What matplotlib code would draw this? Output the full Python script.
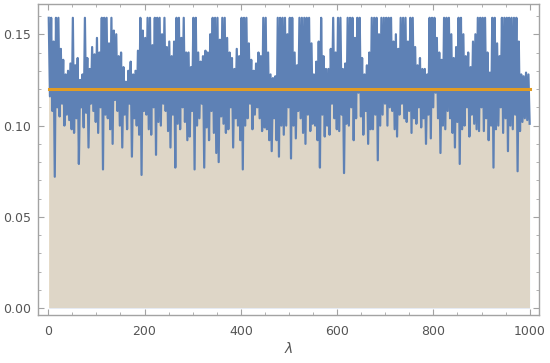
import numpy as np
import matplotlib.pyplot as plt
from matplotlib.ticker import MultipleLocator, FormatStrFormatter

# Peak / trough pairs, one pair per ~5 steps of lambda
# (each row covers ~50 lambda). 0.159 is where the curve hits the plot range.
peaks = [
    0.159, 0.159, 0.146, 0.159, 0.159, 0.142, 0.136, 0.128, 0.130, 0.134,
    0.159, 0.133, 0.137, 0.125, 0.128, 0.159, 0.137, 0.131, 0.143, 0.139,
    0.148, 0.140, 0.159, 0.159, 0.159, 0.145, 0.159, 0.152, 0.150, 0.138,
    0.140, 0.132, 0.124, 0.130, 0.135, 0.128, 0.130, 0.141, 0.159, 0.152,
    0.148, 0.159, 0.159, 0.144, 0.159, 0.159, 0.159, 0.150, 0.159, 0.143,
    0.146, 0.138, 0.146, 0.159, 0.159, 0.148, 0.159, 0.140, 0.140, 0.132,
    0.159, 0.159, 0.140, 0.135, 0.138, 0.141, 0.140, 0.150, 0.159, 0.159,
    0.159, 0.147, 0.159, 0.159, 0.148, 0.140, 0.137, 0.131, 0.142, 0.138,
    0.159, 0.159, 0.159, 0.145, 0.136, 0.130, 0.134, 0.140, 0.138, 0.159,
    0.159, 0.140, 0.128, 0.126, 0.127, 0.159, 0.159, 0.159, 0.159, 0.150,
    0.159, 0.159, 0.140, 0.133, 0.159, 0.159, 0.159, 0.159, 0.159, 0.145,
    0.128, 0.135, 0.146, 0.159, 0.138, 0.131, 0.131, 0.142, 0.159, 0.140,
    0.159, 0.159, 0.131, 0.134, 0.159, 0.159, 0.159, 0.148, 0.159, 0.159,
    0.137, 0.128, 0.133, 0.140, 0.159, 0.159, 0.159, 0.150, 0.159, 0.159,
    0.159, 0.159, 0.159, 0.146, 0.150, 0.142, 0.159, 0.159, 0.159, 0.146,
    0.159, 0.159, 0.143, 0.133, 0.137, 0.131, 0.131, 0.128, 0.159, 0.159,
    0.159, 0.148, 0.140, 0.136, 0.159, 0.159, 0.159, 0.150, 0.137, 0.143,
    0.159, 0.159, 0.150, 0.138, 0.140, 0.132, 0.146, 0.150, 0.159, 0.159,
    0.159, 0.159, 0.140, 0.129, 0.159, 0.159, 0.145, 0.138, 0.159, 0.159,
    0.159, 0.159, 0.159, 0.159, 0.159, 0.146, 0.128, 0.127, 0.129, 0.128,
]
troughs = [
    0.116, 0.108, 0.072, 0.110, 0.105, 0.112, 0.100, 0.106, 0.103, 0.098,
    0.096, 0.104, 0.079, 0.110, 0.099, 0.107, 0.088, 0.112, 0.108, 0.102,
    0.096, 0.110, 0.076, 0.106, 0.104, 0.098, 0.090, 0.114, 0.108, 0.100,
    0.088, 0.106, 0.098, 0.112, 0.083, 0.104, 0.100, 0.095, 0.073, 0.108,
    0.106, 0.098, 0.095, 0.110, 0.084, 0.102, 0.100, 0.112, 0.108, 0.097,
    0.088, 0.106, 0.077, 0.101, 0.098, 0.110, 0.102, 0.092, 0.094, 0.108,
    0.076, 0.100, 0.104, 0.112, 0.077, 0.099, 0.092, 0.108, 0.096, 0.085,
    0.080, 0.105, 0.101, 0.096, 0.098, 0.110, 0.088, 0.104, 0.100, 0.092,
    0.076, 0.100, 0.104, 0.112, 0.098, 0.106, 0.110, 0.104, 0.097, 0.099,
    0.098, 0.092, 0.086, 0.104, 0.092, 0.083, 0.100, 0.095, 0.100, 0.110,
    0.082, 0.100, 0.093, 0.108, 0.104, 0.096, 0.090, 0.106, 0.097, 0.101,
    0.100, 0.092, 0.077, 0.106, 0.094, 0.100, 0.095, 0.112, 0.104, 0.098,
    0.097, 0.106, 0.074, 0.101, 0.100, 0.110, 0.092, 0.104, 0.118, 0.105,
    0.095, 0.108, 0.090, 0.098, 0.098, 0.106, 0.081, 0.100, 0.106, 0.112,
    0.100, 0.110, 0.108, 0.098, 0.094, 0.106, 0.112, 0.104, 0.102, 0.108,
    0.096, 0.104, 0.101, 0.110, 0.099, 0.104, 0.090, 0.106, 0.093, 0.110,
    0.118, 0.104, 0.085, 0.100, 0.098, 0.108, 0.104, 0.096, 0.088, 0.102,
    0.079, 0.098, 0.100, 0.110, 0.094, 0.106, 0.101, 0.098, 0.097, 0.110,
    0.097, 0.104, 0.092, 0.100, 0.077, 0.098, 0.100, 0.110, 0.096, 0.104,
    0.086, 0.100, 0.098, 0.106, 0.075, 0.097, 0.102, 0.104, 0.103, 0.101,
]
mean_level = 0.12

lam = np.linspace(1, 1000, 2 * len(peaks))
series = np.column_stack([peaks, troughs]).ravel()
level = np.full_like(lam, mean_level)

blue = '#5e81b5'
orange = '#e19c24'
frame_col = '#a3a3a3'
text_col = '#555555'

fig = plt.figure(figsize=(5.5, 3.63), dpi=100)
ax = fig.add_axes([0.0685, 0.1322, 0.912, 0.857])

# Filling to the axis for both curves (Mathematica style)
ax.fill_between(lam, 0, series, color=blue, alpha=0.2, lw=0)
ax.fill_between(lam, 0, level, color=orange, alpha=0.2, lw=0)
ax.plot(lam, series, color=blue, lw=1.6)
ax.plot(lam, level, color=orange, lw=2.2)

ax.set_xlim(-22, 1020)
ax.set_ylim(-0.0037, 0.1666)

ax.xaxis.set_major_locator(MultipleLocator(200))
ax.xaxis.set_minor_locator(MultipleLocator(50))
ax.yaxis.set_major_locator(MultipleLocator(0.05))
ax.yaxis.set_minor_locator(MultipleLocator(0.01))
ax.yaxis.set_major_formatter(FormatStrFormatter('%.2f'))

ax.tick_params(which='both', direction='in', top=True, right=True,
               color=frame_col, labelcolor=text_col, labelsize=9)
ax.tick_params(which='major', length=4, width=0.8)
ax.tick_params(which='minor', length=2, width=0.6)
ax.tick_params(axis='x', pad=7)
ax.tick_params(axis='y', pad=5)
for sp in ax.spines.values():
    sp.set_color(frame_col)
    sp.set_linewidth(1.0)

ax.set_xlabel('λ', fontsize=10, style='italic', color=text_col, labelpad=3)

fig.savefig('out.png', dpi=100)
